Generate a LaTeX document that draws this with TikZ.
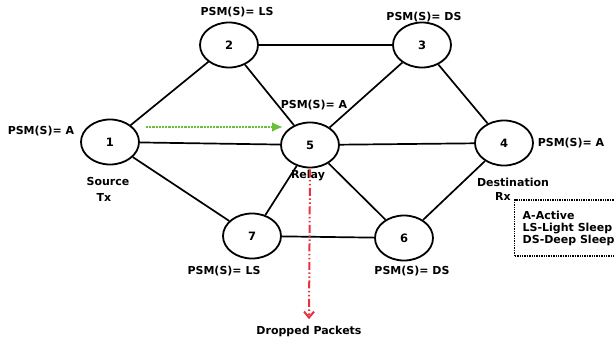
\documentclass[tikz,border=0pt]{standalone}
\usepackage{fontspec}
\setmainfont{DejaVu Sans}
\usetikzlibrary{shapes,arrows.meta,calc}

\definecolor{flowgreen}{RGB}{108,190,60}
\definecolor{dropred}{RGB}{232,50,60}

\tikzset{
	peer/.style={draw, ellipse, minimum width=58pt, minimum height=45pt, line width=1.8pt, font=\bfseries\fontsize{11.5}{12}\selectfont},
	lbl/.style={font=\bfseries\fontsize{11}{12}\selectfont},
	link/.style={line width=1.7pt}
}

\begin{document}
\begin{tikzpicture}[x=1pt,y=-1pt]
\useasboundingbox (0,0) rectangle (614,340);
% nodes
\node[peer] (n1) at (110,142) {1};
\node[peer] (n2) at (229,45) {2};
\node[peer] (n3) at (422,45) {3};
\node[peer] (n4) at (504,143) {4};
\node[peer] (n5) at (310,145) {5};
\node[peer] (n6) at (404,238) {6};
\node[peer] (n7) at (252,236) {7};
% links
\foreach \a/\b in {1/2, 2/3, 2/5, 3/5, 3/4, 1/5, 5/4, 1/7, 7/5, 5/6, 7/6, 6/4} {
	\draw[link] (n\a) -- (n\b);
}
% states
\node[lbl] (s1) at (41,131) {PSM(S)= A};
\node[lbl] (s2) at (237,12) {PSM(S)= LS};
\node[lbl] (s3) at (424,17) {PSM(S)= DS};
\node[lbl] (s5) at (314,105) {PSM(S)= A};
\node[lbl] (s4) at (571,143) {PSM(S)= A};
\node[lbl] (s7) at (224,271) {PSM(S)= LS};
\node[lbl] (s6) at (412,271) {PSM(S)= DS};
\node[lbl] (src) at (108,181) {Source};
\node[lbl] (tx) at (104,197) {Tx};
\node[lbl] (rel) at (308,176) {Relay};
\node[lbl] (dst) at (513,182) {Destination};
\node[lbl] (rx) at (503,196) {Rx};
\node[lbl] (drop) at (309,331) {Dropped Packets};
% legend
\node[lbl, draw, densely dotted, line width=1.4pt, minimum width=99pt, minimum height=56pt, align=left, inner xsep=8pt, anchor=west] (key) at (514,228) {A-Active\\LS-Light Sleep\\DS-Deep Sleep};
% arrows
\coordinate (g1) at (146,127);
\coordinate (g2) at (283,127);
\draw[flowgreen, densely dotted, line width=2.2pt, -{Latex[length=11pt,width=10pt]}] (g1) -- (g2);
\draw[dropred, dash pattern=on 8pt off 2.5pt on 1.5pt off 2.5pt on 1.5pt off 2.5pt, line width=2pt, -{Straight Barb[length=6pt,width=10pt]}] ($(n5.south)+(0,1)$) -- ($(drop.north)+(0,-3)$);
\end{tikzpicture}
\end{document}
